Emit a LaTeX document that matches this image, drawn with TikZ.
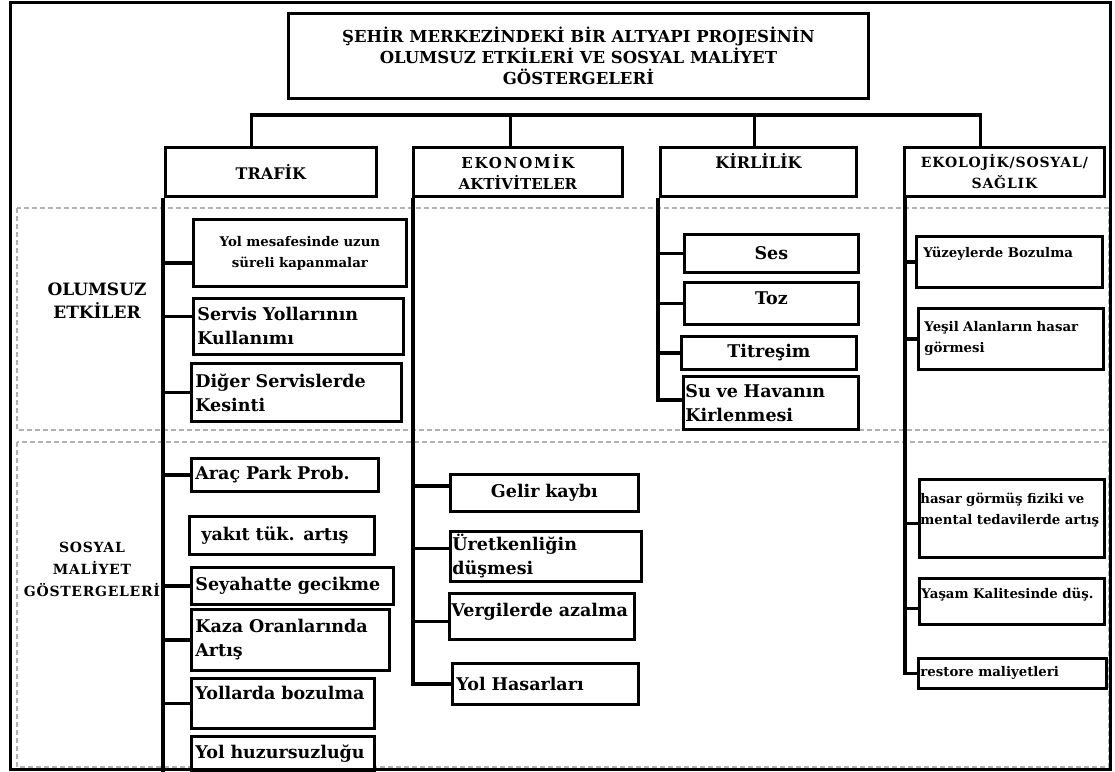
\documentclass[tikz,border=0pt]{standalone}
\usepackage{fontspec}
\setmainfont{DejaVu Serif}
\usetikzlibrary{positioning}

\tikzset{
  cell/.style={draw, fill=white, line width=2.8pt, anchor=north west, inner xsep=4pt, inner ysep=2pt,
    font=\bfseries\fontsize{17.5}{24}\selectfont},
  head/.style={cell, align=center, font=\bfseries\fontsize{16}{21}\selectfont},
  kid/.style={cell, align=left},
  kidc/.style={cell, align=center},
  tiny/.style={font=\bfseries\fontsize{13.3}{21}\selectfont},
  stem/.style={line width=3.2pt},
  zone/.style={draw=gray!60, line width=1.4pt, dash pattern=on 5pt off 3pt},
  side/.style={align=center, font=\bfseries\fontsize{17}{23}\selectfont},
}

\begin{document}
\begin{tikzpicture}[x=1pt,y=-1pt]
\useasboundingbox (0,0) rectangle (1115,771);

%zones
\draw[zone] (17,208) rectangle (1109,430);
\draw[zone] (17,442) rectangle (1109,767);

%title and groups
\node[head, minimum width=580pt, minimum height=85pt, font=\bfseries\fontsize{16.5}{21}\selectfont] (top) at (287,12)
  {ŞEHİR MERKEZİNDEKİ BİR ALTYAPI PROJESİNİN\\OLUMSUZ ETKİLERİ VE SOSYAL MALİYET\\GÖSTERGELERİ};

\node[head, minimum width=211pt, minimum height=49pt] (traf) at (164,146) {TRAFİK};
\node[head, minimum width=209pt, minimum height=49pt, font=\bfseries\fontsize{15}{21}\selectfont] (ekon) at (412,146)
  {{\addfontfeature{LetterSpace=12}EKONOMİK}\\AKTİVİTELER};
\node[head, minimum width=196pt, minimum height=49pt, text depth=22pt] (kirl) at (659,146) {KİRLİLİK};
\node[head, minimum width=200pt, minimum height=49pt, font=\bfseries\fontsize{14}{21}\selectfont] (ekol) at (903,146)
  {\addfontfeature{LetterSpace=6}EKOLOJİK/SOSYAL/\\\addfontfeature{LetterSpace=6}SAĞLIK};

\node[side] (neg) at (97,301) {OLUMSUZ\\ETKİLER};
\node[side, font=\bfseries\fontsize{14}{22}\selectfont] (soc) at (92,569)
  {\addfontfeature{LetterSpace=5}SOSYAL\\\addfontfeature{LetterSpace=5}MALİYET\\\addfontfeature{LetterSpace=5}GÖSTERGELERİ};

%trafik
\node[kidc, tiny, minimum width=213pt, minimum height=67pt, text width=205pt] (yol) at (192,218) {Yol mesafesinde uzun\\süreli kapanmalar};
\node[kid, minimum width=210pt, minimum height=56pt, text width=202pt] (serv) at (192,297) {Servis Yollarının\\Kullanımı};
\node[kid, minimum width=210pt, minimum height=58pt, text width=202pt] (diger) at (190,362) {Diğer Servislerde\\Kesinti};
\node[kid, minimum width=187pt, minimum height=33pt, text width=179pt] (arac) at (190,457) {Araç Park Prob.};
\node[kid, minimum width=185pt, minimum height=38pt, text width=177pt] (yakit) at (188,515) {\hspace*{8pt}yakıt tük. artış};
\node[kid, minimum width=202pt, minimum height=37pt, text width=194pt] (seyah) at (190,566) {Seyahatte gecikme};
\node[kid, minimum width=198pt, minimum height=61pt, text width=190pt] (kaza) at (190,608) {Kaza Oranlarında\\Artış};
\node[kid, minimum width=183pt, minimum height=50pt, text width=175pt, text depth=21pt] (bozul) at (190,677) {Yollarda bozulma};
\node[kid, minimum width=183pt, minimum height=34pt, text width=175pt] (huzur) at (190,735) {Yol huzursuzluğu};

%ekonomik
\node[kidc, minimum width=188pt, minimum height=37pt, text width=180pt] (gelir) at (449,473) {Gelir kaybı};
\node[kid, minimum width=191pt, minimum height=50pt, text width=187pt, inner xsep=2pt] (uret) at (449,530) {Üretkenliğin\\düşmesi};
\node[kid, minimum width=185pt, minimum height=46pt, text width=181pt, inner xsep=2pt, text depth=13pt] (vergi) at (448,592) {Vergilerde azalma};
\node[kid, minimum width=186pt, minimum height=41pt, text width=178pt] (hasar) at (451,662) {Yol Hasarları};

%kirlilik
\node[kidc, minimum width=174pt, minimum height=38pt, text width=166pt] (ses) at (683,233) {Ses};
\node[kidc, minimum width=174pt, minimum height=42pt, text width=166pt, text depth=11pt] (toz) at (683,281) {Toz};
\node[kidc, minimum width=175pt, minimum height=33pt, text width=167pt] (titr) at (680,335) {Titreşim};
\node[kid, minimum width=175pt, minimum height=53pt, text width=171pt, inner xsep=1pt] (su) at (682,375) {Su ve Havanın\\Kirlenmesi};

%ekolojik
\node[kid, tiny, minimum width=186pt, minimum height=51pt, text width=172pt, inner xsep=7pt, text depth=19pt] (yuzey) at (915,235) {Yüzeylerde Bozulma};
\node[kid, tiny, minimum width=185pt, minimum height=61pt, text width=173pt, inner xsep=6pt] (yesil) at (917,307) {Yeşil Alanların hasar\\görmesi};
\node[kid, tiny, minimum width=185pt, minimum height=78pt, text width=183pt, inner xsep=1pt, text depth=40pt] (tedavi) at (918,478) {hasar görmüş fiziki ve\\mental tedavilerde artış};
\node[kid, tiny, minimum width=185pt, minimum height=46pt, text width=181pt, inner xsep=2pt, text depth=17pt] (yasam) at (918,577) {Yaşam Kalitesinde düş.};
\node[kid, tiny, minimum width=188pt, minimum height=30pt, text width=184pt, inner xsep=2pt] (resto) at (917,657) {restore maliyetleri};

%bus
\coordinate (bus) at (0,115);
\coordinate (dropT) at ([xshift=-19.5pt]traf.north);
\coordinate (dropE) at ([xshift=-7.5pt]ekon.north);
\coordinate (dropK) at ([xshift=-4pt]kirl.north);
\coordinate (dropO) at ([xshift=-24pt]ekol.north);
\draw[stem] (dropT) -- (dropT |- bus) -- (dropO |- bus) -- (dropO);
\draw[stem] (dropE) -- (dropE |- bus);
\draw[stem] (dropK) -- (dropK |- bus);

%spines
\coordinate (tsp) at ([xshift=-1pt]traf.south west);
\coordinate (esp) at ([xshift=1pt]ekon.south west);
\coordinate (ksp) at ([xshift=-1pt]kirl.south west);
\coordinate (osp) at ([xshift=2pt]ekol.south west);
\draw[stem] (tsp) -- (tsp |- huzur.south);

%branches
\foreach \k in {diger,arac,seyah,kaza,bozul} \draw[stem] (\k.west) -| (tsp);
\draw[stem] ([yshift=-10pt]yol.west) -| (tsp);
\draw[stem] ([yshift=10pt]serv.west) -| (tsp);
\draw[stem] (hasar.west) -| (esp);
\draw[stem] ([yshift=7pt]gelir.west) -| (esp);
\draw[stem] ([yshift=8pt]uret.west) -| (esp);
\draw[stem] ([yshift=-5pt]vergi.west) -| (esp);
\foreach \k in {ses,toz,titr} \draw[stem] (\k.west) -| (ksp);
\draw[stem] ([yshift=3pt]su.west) -| (ksp);
\foreach \k in {yuzey,yesil,resto} \draw[stem] (\k.west) -| (osp);
\draw[stem] ([yshift=-5pt]tedavi.west) -| (osp);
\draw[stem] ([yshift=-7pt]yasam.west) -| (osp);

%frame
\draw[line width=3pt] (10,2) rectangle (1110,769);
\end{tikzpicture}
\end{document}
